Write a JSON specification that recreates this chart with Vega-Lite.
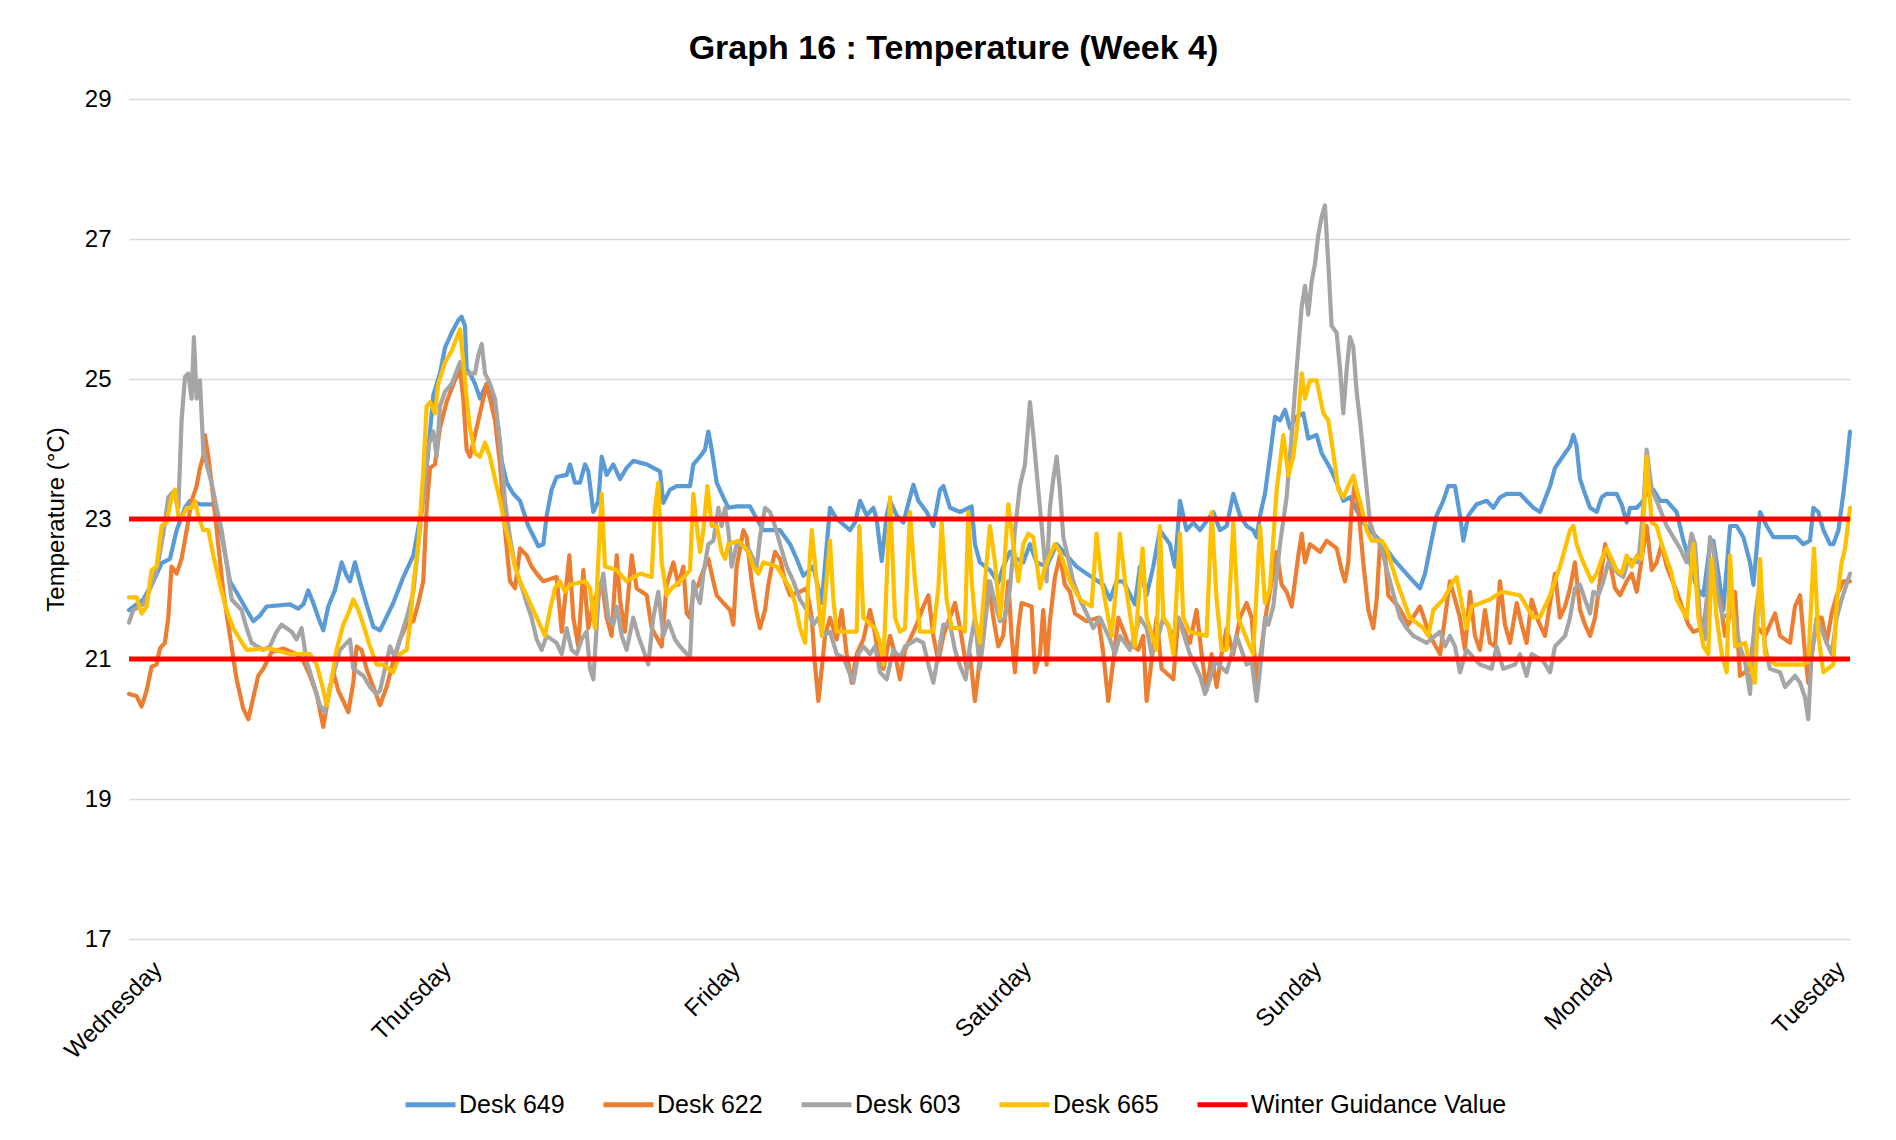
{
  "$schema": "https://vega.github.io/schema/vega-lite/v6.json",
  "width": 1721,
  "height": 840,
  "autosize": {"type": "none"},
  "padding": {"left": 129, "top": 99, "right": 46, "bottom": 201},
  "background": "white",
  "config": {
    "font": "Liberation Sans",
    "view": {"stroke": null}
  },
  "title": {
    "text": "Graph 16 : Temperature (Week 4)",
    "fontSize": 34,
    "fontWeight": "bold",
    "font": "Liberation Sans",
    "color": "#000000",
    "anchor": "middle",
    "frame": "group",
    "dx": -36,
    "offset": 21
  },
  "datasets": {
    "d649": [
      {"hour":0,"temp":21.70},{"hour":1.18,"temp":21.85},{"hour":2.01,"temp":22.11},{"hour":2.70,"temp":22.37},{"hour":3.39,"temp":22.43},{"hour":3.94,"temp":22.84},{"hour":4.63,"temp":23.16},{"hour":5.04,"temp":23.26},{"hour":5.87,"temp":23.21},{"hour":6.97,"temp":23.21},{"hour":7.38,"temp":23.0},{"hour":7.80,"temp":22.64},{"hour":8.35,"temp":22.11},{"hour":9.04,"temp":21.91},{"hour":9.73,"temp":21.70},{"hour":10.28,"temp":21.54},{"hour":10.83,"temp":21.62},{"hour":11.38,"temp":21.75},{"hour":13.31,"temp":21.78},{"hour":14.0,"temp":21.72},{"hour":14.42,"temp":21.78},{"hour":14.83,"temp":21.98},{"hour":15.24,"temp":21.80},{"hour":15.66,"temp":21.59},{"hour":16.07,"temp":21.41},{"hour":16.48,"temp":21.75},{"hour":17.03,"temp":21.98},{"hour":17.59,"temp":22.38},{"hour":18.0,"temp":22.19},{"hour":18.28,"temp":22.11},{"hour":18.69,"temp":22.38},{"hour":19.1,"temp":22.11},{"hour":19.65,"temp":21.78},{"hour":20.21,"temp":21.46},{"hour":20.76,"temp":21.41},{"hour":21.86,"temp":21.80},{"hour":22.69,"temp":22.17},{"hour":23.52,"temp":22.48},{"hour":24.07,"temp":23.0},{"hour":24.48,"temp":23.47},{"hour":24.90,"temp":24.25},{"hour":25.17,"temp":24.77},{"hour":25.72,"temp":25.08},{"hour":26.14,"temp":25.45},{"hour":26.69,"temp":25.66},{"hour":27.24,"temp":25.84},{"hour":27.51,"temp":25.89},{"hour":27.79,"temp":25.76},{"hour":27.93,"temp":25.14},{"hour":28.2,"temp":25.08},{"hour":28.62,"temp":24.93},{"hour":29.03,"temp":24.72},{"hour":29.58,"temp":24.93},{"hour":30.13,"temp":24.67},{"hour":30.55,"temp":24.30},{"hour":30.82,"temp":23.83},{"hour":31.24,"temp":23.52},{"hour":31.79,"temp":23.36},{"hour":32.34,"temp":23.26},{"hour":33.03,"temp":22.90},{"hour":33.86,"temp":22.61},{"hour":34.27,"temp":22.64},{"hour":34.55,"temp":23.05},{"hour":34.96,"temp":23.42},{"hour":35.37,"temp":23.60},{"hour":36.2,"temp":23.63},{"hour":36.48,"temp":23.78},{"hour":36.89,"temp":23.52},{"hour":37.30,"temp":23.52},{"hour":37.72,"temp":23.78},{"hour":37.99,"temp":23.68},{"hour":38.41,"temp":23.10},{"hour":38.82,"temp":23.26},{"hour":39.1,"temp":23.89},{"hour":39.51,"temp":23.63},{"hour":40.06,"temp":23.78},{"hour":40.61,"temp":23.57},{"hour":41.16,"temp":23.73},{"hour":41.71,"temp":23.83},{"hour":42.82,"temp":23.78},{"hour":43.37,"temp":23.73},{"hour":43.92,"temp":23.68},{"hour":44.2,"temp":23.23},{"hour":44.75,"temp":23.42},{"hour":45.3,"temp":23.47},{"hour":46.4,"temp":23.47},{"hour":46.68,"temp":23.78},{"hour":47.23,"temp":23.89},{"hour":47.64,"temp":23.99},{"hour":47.92,"temp":24.25},{"hour":48.2,"temp":23.99},{"hour":48.61,"temp":23.52},{"hour":49.16,"temp":23.31},{"hour":49.58,"temp":23.16},{"hour":50.26,"temp":23.18},{"hour":51.37,"temp":23.18},{"hour":51.92,"temp":23.0},{"hour":52.47,"temp":22.84},{"hour":53.85,"temp":22.84},{"hour":54.68,"temp":22.64},{"hour":55.23,"temp":22.43},{"hour":55.78,"temp":22.19},{"hour":56.6,"temp":22.32},{"hour":57.3,"temp":21.80},{"hour":57.98,"temp":23.16},{"hour":58.54,"temp":23.0},{"hour":59.64,"temp":22.84},{"hour":60.05,"temp":22.95},{"hour":60.47,"temp":23.26},{"hour":61.02,"temp":23.05},{"hour":61.57,"temp":23.16},{"hour":61.84,"temp":23.0},{"hour":62.26,"temp":22.40},{"hour":62.67,"temp":23.05},{"hour":62.95,"temp":23.26},{"hour":63.5,"temp":23.05},{"hour":64.05,"temp":22.95},{"hour":64.6,"temp":23.31},{"hour":64.88,"temp":23.49},{"hour":65.29,"temp":23.26},{"hour":65.98,"temp":23.10},{"hour":66.53,"temp":22.90},{"hour":67.08,"temp":23.42},{"hour":67.36,"temp":23.47},{"hour":67.91,"temp":23.16},{"hour":68.74,"temp":23.10},{"hour":69.7,"temp":23.18},{"hour":69.97,"temp":22.64},{"hour":70.38,"temp":22.38},{"hour":71.21,"temp":22.27},{"hour":71.9,"temp":22.09},{"hour":72.31,"temp":22.32},{"hour":72.87,"temp":22.53},{"hour":73.42,"temp":22.43},{"hour":73.97,"temp":22.38},{"hour":74.52,"temp":22.64},{"hour":75.07,"temp":22.38},{"hour":75.9,"temp":22.32},{"hour":76.73,"temp":22.64},{"hour":77.55,"temp":22.48},{"hour":78.38,"temp":22.32},{"hour":79.21,"temp":22.22},{"hour":80.59,"temp":22.06},{"hour":81.14,"temp":21.85},{"hour":81.69,"temp":22.11},{"hour":82.24,"temp":22.11},{"hour":83.2,"temp":21.78},{"hour":83.62,"temp":22.32},{"hour":84.17,"temp":21.91},{"hour":84.72,"temp":22.32},{"hour":85.27,"temp":22.84},{"hour":86.1,"temp":22.64},{"hour":86.51,"temp":22.32},{"hour":86.93,"temp":23.26},{"hour":87.48,"temp":22.84},{"hour":88.03,"temp":22.95},{"hour":88.58,"temp":22.84},{"hour":89.68,"temp":23.10},{"hour":90.24,"temp":22.84},{"hour":90.79,"temp":22.90},{"hour":91.34,"temp":23.36},{"hour":91.89,"temp":23.05},{"hour":92.44,"temp":22.90},{"hour":92.99,"temp":22.84},{"hour":93.27,"temp":22.74},{"hour":93.55,"temp":23.05},{"hour":93.96,"temp":23.36},{"hour":94.37,"temp":23.89},{"hour":94.79,"temp":24.46},{"hour":95.2,"temp":24.41},{"hour":95.62,"temp":24.56},{"hour":96.03,"temp":24.30},{"hour":96.58,"temp":24.46},{"hour":97.13,"temp":24.51},{"hour":97.54,"temp":24.15},{"hour":98.23,"temp":24.20},{"hour":98.65,"temp":23.94},{"hour":99.34,"temp":23.73},{"hour":99.89,"temp":23.52},{"hour":100.44,"temp":23.26},{"hour":100.99,"temp":23.31},{"hour":102.09,"temp":22.95},{"hour":102.65,"temp":22.84},{"hour":103.75,"temp":22.64},{"hour":104.58,"temp":22.43},{"hour":105.4,"temp":22.27},{"hour":106.23,"temp":22.11},{"hour":106.78,"temp":22.01},{"hour":107.2,"temp":22.22},{"hour":107.61,"temp":22.58},{"hour":108.16,"temp":23.05},{"hour":108.71,"temp":23.26},{"hour":109.12,"temp":23.47},{"hour":109.68,"temp":23.47},{"hour":110.09,"temp":23.05},{"hour":110.37,"temp":22.69},{"hour":110.78,"temp":23.05},{"hour":111.47,"temp":23.21},{"hour":112.3,"temp":23.26},{"hour":112.85,"temp":23.16},{"hour":113.4,"temp":23.31},{"hour":113.95,"temp":23.36},{"hour":115.05,"temp":23.36},{"hour":115.6,"temp":23.26},{"hour":116.16,"temp":23.16},{"hour":116.71,"temp":23.10},{"hour":117.54,"temp":23.47},{"hour":117.95,"temp":23.73},{"hour":118.78,"temp":23.94},{"hour":119.19,"temp":24.04},{"hour":119.47,"temp":24.20},{"hour":119.74,"temp":24.04},{"hour":120.02,"temp":23.57},{"hour":120.43,"temp":23.36},{"hour":120.85,"temp":23.16},{"hour":121.4,"temp":23.10},{"hour":121.81,"temp":23.31},{"hour":122.22,"temp":23.36},{"hour":123.05,"temp":23.36},{"hour":123.46,"temp":23.21},{"hour":123.88,"temp":22.95},{"hour":124.15,"temp":23.16},{"hour":124.71,"temp":23.16},{"hour":125.26,"temp":23.26},{"hour":125.67,"temp":23.42},{"hour":126.08,"temp":23.42},{"hour":126.64,"temp":23.26},{"hour":127.19,"temp":23.26},{"hour":128.01,"temp":23.10},{"hour":128.57,"temp":22.69},{"hour":129.12,"temp":22.38},{"hour":129.67,"temp":22.01},{"hour":130.22,"temp":21.91},{"hour":130.77,"temp":22.64},{"hour":131.05,"temp":22.69},{"hour":131.46,"temp":22.22},{"hour":131.87,"temp":21.70},{"hour":132.43,"temp":22.90},{"hour":132.98,"temp":22.90},{"hour":133.53,"temp":22.74},{"hour":134.08,"temp":22.38},{"hour":134.36,"temp":22.06},{"hour":134.91,"temp":23.10},{"hour":135.46,"temp":22.90},{"hour":136.01,"temp":22.74},{"hour":137.94,"temp":22.74},{"hour":138.49,"temp":22.64},{"hour":139.04,"temp":22.69},{"hour":139.32,"temp":23.16},{"hour":139.73,"temp":23.10},{"hour":140.15,"temp":22.84},{"hour":140.7,"temp":22.64},{"hour":140.97,"temp":22.64},{"hour":141.39,"temp":22.84},{"hour":141.8,"temp":23.36},{"hour":142.08,"temp":23.78},{"hour":142.35,"temp":24.25}
    ],
    "d622": [
      {"hour":0,"temp":20.50},{"hour":0.63,"temp":20.47},{"hour":1.04,"temp":20.32},{"hour":1.46,"temp":20.55},{"hour":1.87,"temp":20.89},{"hour":2.28,"temp":20.92},{"hour":2.56,"temp":21.15},{"hour":2.97,"temp":21.23},{"hour":3.25,"temp":21.59},{"hour":3.52,"temp":22.32},{"hour":3.94,"temp":22.22},{"hour":4.35,"temp":22.43},{"hour":4.77,"temp":22.84},{"hour":5.18,"temp":23.26},{"hour":5.59,"temp":23.47},{"hour":5.87,"temp":23.73},{"hour":6.14,"temp":23.89},{"hour":6.28,"temp":24.20},{"hour":6.56,"temp":23.89},{"hour":6.97,"temp":23.31},{"hour":7.38,"temp":22.64},{"hour":7.8,"temp":21.96},{"hour":8.35,"temp":21.33},{"hour":8.9,"temp":20.71},{"hour":9.45,"temp":20.29},{"hour":9.87,"temp":20.14},{"hour":10.28,"temp":20.45},{"hour":10.69,"temp":20.76},{"hour":11.11,"temp":20.86},{"hour":11.8,"temp":21.10},{"hour":12.76,"temp":21.15},{"hour":13.86,"temp":21.07},{"hour":14.42,"temp":20.97},{"hour":14.97,"temp":20.76},{"hour":15.52,"temp":20.50},{"hour":16.07,"temp":20.03},{"hour":16.48,"temp":20.45},{"hour":16.9,"temp":20.81},{"hour":17.31,"temp":20.55},{"hour":17.72,"temp":20.40},{"hour":18.14,"temp":20.24},{"hour":18.55,"temp":20.66},{"hour":18.83,"temp":21.18},{"hour":19.24,"temp":21.13},{"hour":19.65,"temp":20.86},{"hour":20.21,"temp":20.60},{"hour":20.76,"temp":20.34},{"hour":21.31,"temp":20.60},{"hour":21.86,"temp":20.97},{"hour":22.41,"temp":21.28},{"hour":22.97,"temp":21.49},{"hour":23.52,"temp":21.54},{"hour":23.93,"temp":21.80},{"hour":24.34,"temp":22.11},{"hour":24.62,"temp":23.16},{"hour":24.9,"temp":23.73},{"hour":25.31,"temp":23.78},{"hour":25.72,"temp":24.30},{"hour":26.27,"temp":24.67},{"hour":26.83,"temp":24.93},{"hour":27.38,"temp":25.14},{"hour":27.65,"temp":24.72},{"hour":27.93,"temp":23.99},{"hour":28.2,"temp":23.89},{"hour":28.62,"temp":24.20},{"hour":29.03,"temp":24.51},{"hour":29.31,"temp":24.72},{"hour":29.58,"temp":24.93},{"hour":29.86,"temp":24.72},{"hour":30.27,"temp":24.41},{"hour":30.69,"temp":23.78},{"hour":31.1,"temp":22.84},{"hour":31.51,"temp":22.11},{"hour":31.93,"temp":22.01},{"hour":32.34,"temp":22.58},{"hour":32.89,"temp":22.48},{"hour":33.3,"temp":22.32},{"hour":33.72,"temp":22.22},{"hour":34.27,"temp":22.11},{"hour":35.37,"temp":22.17},{"hour":35.79,"temp":21.39},{"hour":36.06,"temp":21.85},{"hour":36.42,"temp":22.48},{"hour":36.75,"temp":21.59},{"hour":37.16,"temp":21.18},{"hour":37.58,"temp":22.27},{"hour":37.99,"temp":21.44},{"hour":38.41,"temp":21.80},{"hour":39.1,"temp":22.11},{"hour":39.51,"temp":21.59},{"hour":39.92,"temp":21.33},{"hour":40.34,"temp":22.48},{"hour":40.61,"temp":21.85},{"hour":41.02,"temp":21.39},{"hour":41.58,"temp":22.48},{"hour":41.99,"temp":22.01},{"hour":42.82,"temp":21.91},{"hour":43.23,"temp":21.44},{"hour":44.06,"temp":21.18},{"hour":44.47,"temp":22.06},{"hour":45.03,"temp":22.38},{"hour":45.44,"temp":22.06},{"hour":45.85,"temp":22.32},{"hour":46.13,"temp":21.65},{"hour":46.4,"temp":21.59},{"hour":46.68,"temp":21.96},{"hour":47.09,"temp":22.06},{"hour":47.51,"temp":22.27},{"hour":47.92,"temp":22.43},{"hour":48.33,"temp":22.11},{"hour":48.61,"temp":21.91},{"hour":49.16,"temp":21.80},{"hour":49.71,"temp":21.70},{"hour":49.99,"temp":21.49},{"hour":50.26,"temp":22.32},{"hour":50.54,"temp":22.58},{"hour":50.82,"temp":22.84},{"hour":51.09,"temp":22.74},{"hour":51.5,"temp":22.11},{"hour":51.92,"temp":21.65},{"hour":52.19,"temp":21.44},{"hour":52.61,"temp":21.70},{"hour":52.88,"temp":22.06},{"hour":53.16,"temp":22.32},{"hour":53.43,"temp":22.53},{"hour":53.85,"temp":22.43},{"hour":54.26,"temp":22.11},{"hour":54.68,"temp":21.91},{"hour":55.5,"temp":21.96},{"hour":56.05,"temp":22.01},{"hour":56.47,"temp":21.59},{"hour":56.74,"temp":20.92},{"hour":57.02,"temp":20.40},{"hour":57.3,"temp":20.86},{"hour":57.57,"temp":21.33},{"hour":57.98,"temp":21.59},{"hour":58.54,"temp":21.28},{"hour":58.95,"temp":21.70},{"hour":59.36,"temp":21.07},{"hour":59.78,"temp":20.66},{"hour":60.19,"temp":21.07},{"hour":60.74,"temp":21.28},{"hour":61.29,"temp":21.70},{"hour":61.57,"temp":21.49},{"hour":61.98,"temp":21.07},{"hour":62.4,"temp":20.86},{"hour":62.95,"temp":21.33},{"hour":63.36,"temp":21.07},{"hour":63.77,"temp":20.71},{"hour":64.19,"temp":21.13},{"hour":65.15,"temp":21.49},{"hour":65.7,"temp":21.75},{"hour":66.12,"temp":21.91},{"hour":66.53,"temp":21.33},{"hour":66.94,"temp":20.97},{"hour":67.36,"temp":21.33},{"hour":68.32,"temp":21.80},{"hour":68.74,"temp":21.44},{"hour":69.29,"temp":20.86},{"hour":69.56,"temp":21.07},{"hour":69.97,"temp":20.40},{"hour":70.25,"temp":20.81},{"hour":70.66,"temp":21.59},{"hour":71.07,"temp":22.11},{"hour":71.49,"temp":21.59},{"hour":71.9,"temp":21.18},{"hour":72.31,"temp":21.33},{"hour":72.73,"temp":22.11},{"hour":73.0,"temp":21.33},{"hour":73.28,"temp":20.81},{"hour":73.56,"temp":21.44},{"hour":73.83,"temp":21.80},{"hour":74.66,"temp":21.75},{"hour":74.93,"temp":20.81},{"hour":75.35,"temp":21.07},{"hour":75.62,"temp":21.70},{"hour":75.9,"temp":20.92},{"hour":76.17,"temp":21.54},{"hour":76.59,"temp":22.17},{"hour":77.0,"temp":22.48},{"hour":77.41,"temp":22.06},{"hour":77.83,"temp":21.96},{"hour":78.24,"temp":21.65},{"hour":79.21,"temp":21.54},{"hour":80.17,"temp":21.59},{"hour":80.59,"temp":21.07},{"hour":81.0,"temp":20.40},{"hour":81.41,"temp":20.97},{"hour":81.83,"temp":21.59},{"hour":82.65,"temp":21.23},{"hour":83.48,"temp":21.13},{"hour":83.89,"temp":21.33},{"hour":84.17,"temp":20.40},{"hour":84.58,"temp":20.97},{"hour":85.0,"temp":21.59},{"hour":85.41,"temp":20.86},{"hour":86.38,"temp":20.71},{"hour":86.79,"temp":21.59},{"hour":87.75,"temp":21.23},{"hour":88.3,"temp":21.70},{"hour":88.72,"temp":21.07},{"hour":89.13,"temp":20.55},{"hour":89.55,"temp":21.07},{"hour":89.96,"temp":20.60},{"hour":90.37,"temp":21.07},{"hour":90.79,"temp":21.44},{"hour":91.34,"temp":21.07},{"hour":91.89,"temp":21.59},{"hour":92.44,"temp":21.80},{"hour":92.86,"temp":21.59},{"hour":93.27,"temp":20.66},{"hour":93.69,"temp":21.18},{"hour":94.1,"temp":21.70},{"hour":94.51,"temp":22.11},{"hour":94.93,"temp":22.53},{"hour":95.34,"temp":22.06},{"hour":95.75,"temp":21.96},{"hour":96.17,"temp":21.75},{"hour":96.44,"temp":22.11},{"hour":96.72,"temp":22.48},{"hour":97.0,"temp":22.79},{"hour":97.27,"temp":22.38},{"hour":97.68,"temp":22.64},{"hour":98.51,"temp":22.53},{"hour":99.06,"temp":22.69},{"hour":99.89,"temp":22.58},{"hour":100.3,"temp":22.27},{"hour":100.58,"temp":22.11},{"hour":100.85,"temp":22.38},{"hour":101.13,"temp":23.16},{"hour":101.4,"temp":23.52},{"hour":101.68,"temp":23.16},{"hour":102.09,"temp":22.38},{"hour":102.51,"temp":21.70},{"hour":102.92,"temp":21.44},{"hour":103.2,"temp":21.85},{"hour":103.47,"temp":22.64},{"hour":103.89,"temp":22.48},{"hour":104.16,"temp":21.91},{"hour":104.99,"temp":21.75},{"hour":105.82,"temp":21.49},{"hour":106.78,"temp":21.75},{"hour":107.61,"temp":21.33},{"hour":108.44,"temp":21.07},{"hour":108.85,"temp":21.59},{"hour":109.26,"temp":22.11},{"hour":109.68,"temp":21.85},{"hour":110.09,"temp":21.59},{"hour":110.5,"temp":21.13},{"hour":110.92,"temp":21.96},{"hour":111.33,"temp":21.33},{"hour":111.74,"temp":21.13},{"hour":112.16,"temp":21.70},{"hour":112.57,"temp":21.23},{"hour":112.98,"temp":21.18},{"hour":113.4,"temp":22.11},{"hour":113.81,"temp":21.49},{"hour":114.23,"temp":21.23},{"hour":114.78,"temp":21.80},{"hour":115.19,"temp":21.49},{"hour":115.6,"temp":21.23},{"hour":116.02,"temp":21.85},{"hour":116.57,"temp":21.54},{"hour":117.12,"temp":21.33},{"hour":117.54,"temp":21.80},{"hour":117.95,"temp":22.22},{"hour":118.36,"temp":21.59},{"hour":118.78,"temp":21.75},{"hour":119.19,"temp":22.01},{"hour":119.6,"temp":22.38},{"hour":120.02,"temp":21.70},{"hour":120.43,"temp":21.49},{"hour":120.85,"temp":21.33},{"hour":121.26,"temp":21.59},{"hour":121.67,"temp":22.11},{"hour":122.09,"temp":22.64},{"hour":122.5,"temp":22.38},{"hour":122.91,"temp":22.01},{"hour":123.33,"temp":21.91},{"hour":123.88,"temp":22.11},{"hour":124.29,"temp":22.22},{"hour":124.71,"temp":21.96},{"hour":125.53,"temp":22.90},{"hour":125.95,"temp":22.27},{"hour":126.36,"temp":22.38},{"hour":126.77,"temp":22.64},{"hour":127.19,"temp":22.32},{"hour":128.01,"temp":21.96},{"hour":128.98,"temp":21.49},{"hour":129.39,"temp":21.39},{"hour":130.22,"temp":21.44},{"hour":130.63,"temp":22.01},{"hour":131.05,"temp":22.06},{"hour":131.6,"temp":21.85},{"hour":132.01,"temp":21.33},{"hour":132.84,"temp":21.96},{"hour":133.25,"temp":20.76},{"hour":134.08,"temp":20.86},{"hour":134.49,"temp":21.49},{"hour":135.32,"temp":21.33},{"hour":136.15,"temp":21.65},{"hour":136.56,"temp":21.33},{"hour":137.39,"temp":21.23},{"hour":137.8,"temp":21.75},{"hour":138.22,"temp":21.91},{"hour":138.63,"temp":21.07},{"hour":138.9,"temp":20.66},{"hour":139.6,"temp":21.59},{"hour":140.01,"temp":21.59},{"hour":140.42,"temp":21.23},{"hour":140.83,"temp":21.65},{"hour":141.25,"temp":21.91},{"hour":141.8,"temp":22.11},{"hour":142.35,"temp":22.11}
    ],
    "d603": [
      {"hour":0,"temp":21.52},{"hour":0.35,"temp":21.70},{"hour":1.18,"temp":21.78},{"hour":2.01,"temp":22.11},{"hour":2.42,"temp":22.38},{"hour":2.84,"temp":22.79},{"hour":3.25,"temp":23.31},{"hour":3.66,"temp":23.39},{"hour":4.08,"temp":23.16},{"hour":4.35,"temp":24.41},{"hour":4.63,"temp":25.03},{"hour":4.9,"temp":25.08},{"hour":5.18,"temp":24.72},{"hour":5.37,"temp":25.60},{"hour":5.59,"temp":24.72},{"hour":5.87,"temp":24.98},{"hour":6.14,"temp":23.99},{"hour":6.42,"temp":23.78},{"hour":6.83,"temp":23.52},{"hour":7.25,"temp":23.16},{"hour":7.66,"temp":22.84},{"hour":8.07,"temp":22.38},{"hour":8.49,"temp":21.85},{"hour":9.31,"temp":21.70},{"hour":9.73,"temp":21.44},{"hour":10.14,"temp":21.23},{"hour":11.11,"temp":21.13},{"hour":11.66,"temp":21.18},{"hour":12.21,"temp":21.39},{"hour":12.62,"temp":21.49},{"hour":13.45,"temp":21.39},{"hour":13.86,"temp":21.28},{"hour":14.28,"temp":21.44},{"hour":14.69,"temp":20.97},{"hour":15.24,"temp":20.66},{"hour":15.79,"temp":20.34},{"hour":16.21,"temp":20.24},{"hour":16.62,"temp":20.60},{"hour":17.03,"temp":20.86},{"hour":17.45,"temp":21.13},{"hour":18.28,"temp":21.28},{"hour":18.55,"temp":20.86},{"hour":19.38,"temp":20.76},{"hour":19.93,"temp":20.60},{"hour":20.48,"temp":20.50},{"hour":20.76,"temp":20.55},{"hour":21.17,"temp":20.86},{"hour":21.59,"temp":21.18},{"hour":22.0,"temp":21.02},{"hour":22.41,"temp":21.28},{"hour":22.97,"temp":21.59},{"hour":23.52,"temp":21.96},{"hour":23.93,"temp":22.64},{"hour":24.34,"temp":23.31},{"hour":24.76,"temp":24.04},{"hour":25.17,"temp":24.25},{"hour":25.45,"temp":23.89},{"hour":25.72,"temp":24.61},{"hour":26.14,"temp":24.82},{"hour":26.69,"temp":24.93},{"hour":27.38,"temp":25.24},{"hour":27.79,"temp":25.08},{"hour":28.62,"temp":25.08},{"hour":28.89,"temp":25.34},{"hour":29.17,"temp":25.50},{"hour":29.45,"temp":25.08},{"hour":29.86,"temp":24.93},{"hour":30.27,"temp":24.72},{"hour":30.69,"temp":24.09},{"hour":31.1,"temp":23.26},{"hour":31.51,"temp":22.74},{"hour":31.93,"temp":22.32},{"hour":32.34,"temp":22.11},{"hour":32.89,"temp":21.80},{"hour":33.3,"temp":21.59},{"hour":33.72,"temp":21.28},{"hour":34.13,"temp":21.13},{"hour":34.55,"temp":21.33},{"hour":35.37,"temp":21.23},{"hour":35.79,"temp":21.07},{"hour":36.2,"temp":21.44},{"hour":36.61,"temp":21.13},{"hour":37.03,"temp":21.07},{"hour":37.44,"temp":21.28},{"hour":37.85,"temp":21.39},{"hour":38.13,"temp":20.86},{"hour":38.41,"temp":20.71},{"hour":38.82,"temp":21.85},{"hour":39.23,"temp":22.22},{"hour":39.65,"temp":21.59},{"hour":40.06,"temp":21.49},{"hour":40.34,"temp":21.75},{"hour":40.75,"temp":21.33},{"hour":41.16,"temp":21.13},{"hour":41.71,"temp":21.59},{"hour":42.13,"temp":21.33},{"hour":42.54,"temp":21.13},{"hour":42.95,"temp":20.92},{"hour":43.37,"temp":21.59},{"hour":43.78,"temp":21.96},{"hour":44.2,"temp":21.33},{"hour":44.61,"temp":21.54},{"hour":45.16,"temp":21.28},{"hour":45.58,"temp":21.18},{"hour":46.4,"temp":21.02},{"hour":46.68,"temp":22.11},{"hour":46.96,"temp":21.91},{"hour":47.23,"temp":21.80},{"hour":47.51,"temp":22.22},{"hour":47.92,"temp":22.64},{"hour":48.33,"temp":22.69},{"hour":48.75,"temp":23.16},{"hour":49.02,"temp":22.90},{"hour":49.3,"temp":23.16},{"hour":49.57,"temp":22.84},{"hour":49.85,"temp":22.32},{"hour":50.26,"temp":22.64},{"hour":51.23,"temp":22.58},{"hour":51.92,"temp":22.32},{"hour":52.19,"temp":22.74},{"hour":52.61,"temp":23.16},{"hour":53.02,"temp":23.10},{"hour":53.43,"temp":22.90},{"hour":53.85,"temp":22.64},{"hour":54.4,"temp":22.32},{"hour":54.95,"temp":22.11},{"hour":55.5,"temp":21.85},{"hour":56.05,"temp":21.70},{"hour":56.61,"temp":21.49},{"hour":57.02,"temp":21.59},{"hour":57.43,"temp":21.33},{"hour":57.98,"temp":21.39},{"hour":58.54,"temp":21.07},{"hour":59.09,"temp":21.02},{"hour":59.91,"temp":20.66},{"hour":60.33,"temp":21.07},{"hour":60.74,"temp":21.18},{"hour":61.29,"temp":21.07},{"hour":61.71,"temp":21.18},{"hour":62.12,"temp":20.81},{"hour":62.67,"temp":20.71},{"hour":63.22,"temp":21.13},{"hour":63.77,"temp":21.02},{"hour":64.19,"temp":21.18},{"hour":65.15,"temp":21.28},{"hour":65.7,"temp":21.23},{"hour":66.12,"temp":20.92},{"hour":66.53,"temp":20.66},{"hour":66.94,"temp":21.07},{"hour":67.36,"temp":21.49},{"hour":67.91,"temp":21.49},{"hour":68.32,"temp":21.13},{"hour":68.74,"temp":20.90},{"hour":69.2,"temp":20.71},{"hour":69.56,"temp":21.20},{"hour":69.97,"temp":21.59},{"hour":70.38,"temp":20.86},{"hour":70.8,"temp":21.49},{"hour":71.21,"temp":22.11},{"hour":71.63,"temp":21.80},{"hour":72.04,"temp":21.54},{"hour":72.45,"temp":21.59},{"hour":72.87,"temp":22.01},{"hour":73.28,"temp":22.84},{"hour":73.69,"temp":23.47},{"hour":74.11,"temp":23.78},{"hour":74.52,"temp":24.67},{"hour":74.8,"temp":24.20},{"hour":75.07,"temp":23.68},{"hour":75.49,"temp":22.90},{"hour":75.9,"temp":22.11},{"hour":76.17,"temp":23.16},{"hour":76.45,"temp":23.57},{"hour":76.73,"temp":23.89},{"hour":77.0,"temp":23.42},{"hour":77.28,"temp":22.74},{"hour":77.69,"temp":22.43},{"hour":78.1,"temp":22.11},{"hour":78.66,"temp":21.85},{"hour":79.21,"temp":21.65},{"hour":79.76,"temp":21.44},{"hour":80.31,"temp":21.59},{"hour":81.14,"temp":21.28},{"hour":81.55,"temp":21.07},{"hour":81.96,"temp":21.33},{"hour":82.79,"temp":21.13},{"hour":83.62,"temp":21.59},{"hour":84.17,"temp":21.44},{"hour":84.58,"temp":21.07},{"hour":85.0,"temp":21.23},{"hour":85.55,"temp":21.59},{"hour":86.38,"temp":21.33},{"hour":86.79,"temp":21.59},{"hour":87.75,"temp":21.07},{"hour":88.58,"temp":20.76},{"hour":89.0,"temp":20.50},{"hour":89.41,"temp":20.71},{"hour":89.82,"temp":20.97},{"hour":90.79,"temp":20.81},{"hour":91.61,"temp":21.33},{"hour":92.44,"temp":20.92},{"hour":92.86,"temp":20.97},{"hour":93.27,"temp":20.40},{"hour":93.69,"temp":21.07},{"hour":93.96,"temp":21.59},{"hour":94.24,"temp":21.49},{"hour":94.65,"temp":21.75},{"hour":95.2,"temp":22.64},{"hour":95.75,"temp":23.31},{"hour":96.17,"temp":24.20},{"hour":96.58,"temp":25.14},{"hour":96.99,"temp":26.02},{"hour":97.27,"temp":26.33},{"hour":97.54,"temp":25.92},{"hour":97.82,"temp":26.39},{"hour":98.1,"temp":26.65},{"hour":98.37,"temp":27.06},{"hour":98.65,"temp":27.32},{"hour":98.92,"temp":27.48},{"hour":99.2,"temp":26.65},{"hour":99.47,"temp":25.76},{"hour":99.89,"temp":25.66},{"hour":100.17,"temp":25.14},{"hour":100.44,"temp":24.51},{"hour":100.72,"temp":25.14},{"hour":100.99,"temp":25.60},{"hour":101.27,"temp":25.45},{"hour":101.54,"temp":24.82},{"hour":101.82,"temp":24.41},{"hour":102.23,"temp":23.68},{"hour":102.65,"temp":22.95},{"hour":103.06,"temp":22.74},{"hour":103.47,"temp":22.64},{"hour":103.89,"temp":22.38},{"hour":104.3,"temp":22.11},{"hour":104.71,"temp":21.85},{"hour":105.13,"temp":21.59},{"hour":105.68,"temp":21.44},{"hour":106.23,"temp":21.33},{"hour":107.33,"temp":21.23},{"hour":108.44,"temp":21.39},{"hour":108.85,"temp":21.18},{"hour":109.26,"temp":21.33},{"hour":109.68,"temp":21.18},{"hour":110.09,"temp":20.81},{"hour":110.64,"temp":21.13},{"hour":111.74,"temp":20.92},{"hour":112.71,"temp":20.86},{"hour":113.12,"temp":21.18},{"hour":113.67,"temp":20.86},{"hour":114.64,"temp":20.92},{"hour":115.05,"temp":21.07},{"hour":115.6,"temp":20.76},{"hour":116.02,"temp":21.07},{"hour":116.98,"temp":20.97},{"hour":117.54,"temp":20.81},{"hour":117.95,"temp":21.18},{"hour":118.78,"temp":21.33},{"hour":119.19,"temp":21.59},{"hour":119.6,"temp":22.01},{"hour":120.02,"temp":22.06},{"hour":120.43,"temp":21.85},{"hour":120.85,"temp":21.65},{"hour":121.12,"temp":21.96},{"hour":121.54,"temp":21.91},{"hour":121.95,"temp":22.11},{"hour":122.36,"temp":22.38},{"hour":123.19,"temp":22.22},{"hour":123.6,"temp":22.17},{"hour":124.02,"temp":22.43},{"hour":124.84,"temp":22.38},{"hour":125.26,"temp":23.16},{"hour":125.53,"temp":23.99},{"hour":125.95,"temp":23.42},{"hour":126.36,"temp":23.26},{"hour":127.19,"temp":22.90},{"hour":128.29,"temp":22.58},{"hour":128.84,"temp":22.38},{"hour":129.25,"temp":22.79},{"hour":129.53,"temp":22.64},{"hour":129.94,"temp":21.59},{"hour":130.36,"temp":21.28},{"hour":130.77,"temp":22.74},{"hour":131.05,"temp":22.58},{"hour":131.46,"temp":21.85},{"hour":131.87,"temp":21.59},{"hour":132.7,"temp":21.70},{"hour":133.25,"temp":21.18},{"hour":133.67,"temp":20.97},{"hour":134.08,"temp":20.50},{"hour":134.49,"temp":21.59},{"hour":134.91,"temp":22.11},{"hour":135.32,"temp":21.18},{"hour":135.73,"temp":20.86},{"hour":136.56,"temp":20.81},{"hour":136.98,"temp":20.60},{"hour":137.8,"temp":20.76},{"hour":138.22,"temp":20.66},{"hour":138.63,"temp":20.45},{"hour":138.9,"temp":20.14},{"hour":139.18,"temp":21.07},{"hour":139.6,"temp":21.59},{"hour":140.42,"temp":21.23},{"hour":140.83,"temp":21.07},{"hour":141.25,"temp":21.59},{"hour":141.66,"temp":21.85},{"hour":142.35,"temp":22.22}
    ],
    "d665": [
      {"hour":0,"temp":21.88},{"hour":0.63,"temp":21.88},{"hour":1.04,"temp":21.65},{"hour":1.46,"temp":21.75},{"hour":1.87,"temp":22.27},{"hour":2.28,"temp":22.32},{"hour":2.7,"temp":22.90},{"hour":3.11,"temp":22.95},{"hour":3.52,"temp":23.31},{"hour":3.8,"temp":23.42},{"hour":4.08,"temp":23.05},{"hour":4.35,"temp":23.0},{"hour":4.77,"temp":23.16},{"hour":5.18,"temp":23.16},{"hour":5.46,"temp":23.26},{"hour":5.73,"temp":23.05},{"hour":6.14,"temp":22.84},{"hour":6.56,"temp":22.84},{"hour":6.97,"temp":22.48},{"hour":7.52,"temp":22.06},{"hour":8.07,"temp":21.70},{"hour":8.63,"temp":21.44},{"hour":9.18,"temp":21.28},{"hour":9.73,"temp":21.13},{"hour":11.66,"temp":21.15},{"hour":13.31,"temp":21.07},{"hour":14.97,"temp":21.07},{"hour":15.52,"temp":20.92},{"hour":15.93,"temp":20.66},{"hour":16.35,"temp":20.34},{"hour":16.76,"temp":20.71},{"hour":17.17,"temp":21.13},{"hour":17.72,"temp":21.49},{"hour":18.14,"temp":21.65},{"hour":18.55,"temp":21.85},{"hour":18.97,"temp":21.70},{"hour":19.38,"temp":21.49},{"hour":19.93,"temp":21.18},{"hour":20.48,"temp":20.92},{"hour":21.03,"temp":20.92},{"hour":21.86,"temp":20.81},{"hour":22.41,"temp":21.07},{"hour":22.97,"temp":21.13},{"hour":23.24,"temp":21.49},{"hour":23.52,"temp":22.06},{"hour":23.93,"temp":22.64},{"hour":24.34,"temp":23.68},{"hour":24.62,"temp":24.61},{"hour":24.9,"temp":24.67},{"hour":25.31,"temp":24.51},{"hour":25.58,"temp":24.93},{"hour":26.14,"temp":25.24},{"hour":26.69,"temp":25.40},{"hour":27.38,"temp":25.71},{"hour":27.65,"temp":25.24},{"hour":27.93,"temp":24.72},{"hour":28.2,"temp":24.30},{"hour":28.62,"temp":23.94},{"hour":29.03,"temp":23.89},{"hour":29.45,"temp":24.09},{"hour":29.86,"temp":23.89},{"hour":30.27,"temp":23.57},{"hour":30.69,"temp":23.26},{"hour":31.1,"temp":22.90},{"hour":31.51,"temp":22.64},{"hour":31.93,"temp":22.32},{"hour":32.34,"temp":22.11},{"hour":32.75,"temp":21.96},{"hour":33.17,"temp":21.80},{"hour":33.72,"temp":21.59},{"hour":34.41,"temp":21.33},{"hour":34.82,"temp":21.70},{"hour":35.23,"temp":22.01},{"hour":35.65,"temp":22.11},{"hour":36.06,"temp":21.96},{"hour":36.48,"temp":22.06},{"hour":37.72,"temp":22.11},{"hour":38.13,"temp":22.01},{"hour":38.54,"temp":21.44},{"hour":39.09,"temp":23.36},{"hour":39.37,"temp":22.32},{"hour":40.34,"temp":22.27},{"hour":41.16,"temp":22.11},{"hour":42.27,"temp":22.22},{"hour":43.23,"temp":22.17},{"hour":43.51,"temp":23.16},{"hour":43.78,"temp":23.52},{"hour":44.06,"temp":22.38},{"hour":44.47,"temp":21.91},{"hour":44.88,"temp":22.01},{"hour":45.58,"temp":22.11},{"hour":46.4,"temp":22.27},{"hour":46.68,"temp":23.36},{"hour":46.96,"temp":22.90},{"hour":47.23,"temp":22.53},{"hour":47.51,"temp":22.84},{"hour":47.84,"temp":23.47},{"hour":48.2,"temp":22.90},{"hour":48.61,"temp":22.90},{"hour":49.02,"temp":22.53},{"hour":49.3,"temp":22.43},{"hour":49.57,"temp":22.64},{"hour":50.4,"temp":22.69},{"hour":51.23,"temp":22.53},{"hour":51.64,"temp":22.32},{"hour":52.06,"temp":22.22},{"hour":52.47,"temp":22.38},{"hour":53.57,"temp":22.32},{"hour":54.12,"temp":22.17},{"hour":54.68,"temp":22.01},{"hour":55.09,"temp":21.80},{"hour":55.5,"temp":21.44},{"hour":55.92,"temp":21.23},{"hour":56.19,"temp":22.11},{"hour":56.47,"temp":22.84},{"hour":56.88,"temp":22.11},{"hour":57.3,"temp":21.33},{"hour":57.98,"temp":22.69},{"hour":58.26,"temp":21.85},{"hour":58.54,"temp":21.39},{"hour":60.19,"temp":21.39},{"hour":60.41,"temp":22.90},{"hour":60.74,"temp":21.59},{"hour":61.71,"temp":21.44},{"hour":62.12,"temp":21.23},{"hour":62.4,"temp":20.92},{"hour":62.67,"temp":22.11},{"hour":62.95,"temp":23.31},{"hour":63.36,"temp":21.59},{"hour":63.77,"temp":21.39},{"hour":64.19,"temp":21.44},{"hour":64.6,"temp":23.10},{"hour":65.01,"temp":22.11},{"hour":65.43,"temp":21.39},{"hour":66.53,"temp":21.39},{"hour":66.94,"temp":22.01},{"hour":67.22,"temp":22.95},{"hour":67.63,"temp":21.85},{"hour":68.04,"temp":21.44},{"hour":69.01,"temp":21.44},{"hour":69.14,"temp":21.39},{"hour":69.42,"temp":23.10},{"hour":69.7,"temp":22.11},{"hour":69.97,"temp":21.59},{"hour":70.38,"temp":21.23},{"hour":70.8,"temp":22.11},{"hour":71.21,"temp":22.90},{"hour":71.63,"temp":22.38},{"hour":72.04,"temp":21.59},{"hour":72.31,"temp":22.11},{"hour":72.73,"temp":23.21},{"hour":73.14,"temp":22.64},{"hour":73.56,"temp":22.11},{"hour":73.97,"temp":22.64},{"hour":74.38,"temp":22.79},{"hour":74.8,"temp":22.74},{"hour":75.35,"temp":22.01},{"hour":75.76,"temp":22.32},{"hour":76.59,"temp":22.64},{"hour":77.0,"temp":22.53},{"hour":77.83,"temp":22.11},{"hour":78.66,"temp":21.85},{"hour":79.62,"temp":21.75},{"hour":80.03,"temp":22.79},{"hour":80.45,"temp":22.11},{"hour":81.27,"temp":21.33},{"hour":81.69,"temp":22.11},{"hour":81.96,"temp":22.79},{"hour":82.38,"temp":22.11},{"hour":83.2,"temp":21.18},{"hour":83.84,"temp":22.58},{"hour":84.17,"temp":21.59},{"hour":84.99,"temp":21.13},{"hour":85.27,"temp":22.90},{"hour":85.55,"temp":21.59},{"hour":85.96,"temp":21.49},{"hour":86.38,"temp":21.07},{"hour":86.93,"temp":22.79},{"hour":87.2,"temp":21.59},{"hour":87.75,"temp":21.39},{"hour":89.13,"temp":21.33},{"hour":89.55,"temp":23.10},{"hour":89.96,"temp":21.85},{"hour":90.37,"temp":21.13},{"hour":90.79,"temp":21.13},{"hour":91.34,"temp":22.95},{"hour":91.75,"temp":21.59},{"hour":92.58,"temp":21.23},{"hour":92.99,"temp":21.07},{"hour":93.55,"temp":22.90},{"hour":93.96,"temp":21.80},{"hour":94.37,"temp":22.01},{"hour":94.93,"temp":23.42},{"hour":95.48,"temp":24.20},{"hour":95.89,"temp":23.62},{"hour":96.3,"temp":23.89},{"hour":96.72,"temp":24.46},{"hour":97.0,"temp":25.08},{"hour":97.27,"temp":24.72},{"hour":97.68,"temp":24.98},{"hour":98.23,"temp":24.98},{"hour":98.79,"temp":24.51},{"hour":99.2,"temp":24.41},{"hour":99.61,"temp":23.94},{"hour":100.03,"temp":23.42},{"hour":100.44,"temp":23.31},{"hour":100.85,"temp":23.47},{"hour":101.27,"temp":23.62},{"hour":101.54,"temp":23.42},{"hour":101.96,"temp":23.16},{"hour":102.37,"temp":22.84},{"hour":102.78,"temp":22.69},{"hour":103.61,"temp":22.69},{"hour":104.02,"temp":22.58},{"hour":104.85,"temp":22.11},{"hour":105.95,"temp":21.59},{"hour":107.06,"temp":21.44},{"hour":107.47,"temp":21.33},{"hour":107.88,"temp":21.70},{"hour":108.71,"temp":21.85},{"hour":109.54,"temp":22.11},{"hour":109.81,"temp":22.17},{"hour":110.23,"temp":21.80},{"hour":110.64,"temp":21.44},{"hour":111.05,"temp":21.75},{"hour":112.57,"temp":21.85},{"hour":113.54,"temp":21.96},{"hour":115.05,"temp":21.91},{"hour":116.16,"temp":21.59},{"hour":116.71,"temp":21.60},{"hour":117.54,"temp":21.91},{"hour":118.36,"temp":22.32},{"hour":118.78,"temp":22.58},{"hour":119.19,"temp":22.84},{"hour":119.47,"temp":22.90},{"hour":119.74,"temp":22.64},{"hour":120.16,"temp":22.43},{"hour":120.98,"temp":22.11},{"hour":121.4,"temp":22.22},{"hour":121.81,"temp":22.43},{"hour":122.22,"temp":22.58},{"hour":123.05,"temp":22.27},{"hour":123.46,"temp":22.22},{"hour":123.88,"temp":22.48},{"hour":124.29,"temp":22.32},{"hour":124.71,"temp":22.48},{"hour":125.12,"temp":22.43},{"hour":125.53,"temp":23.89},{"hour":125.95,"temp":22.95},{"hour":126.36,"temp":22.90},{"hour":126.77,"temp":22.64},{"hour":127.19,"temp":22.43},{"hour":127.6,"temp":22.22},{"hour":128.01,"temp":21.85},{"hour":128.84,"temp":21.59},{"hour":129.39,"temp":22.64},{"hour":129.81,"temp":21.59},{"hour":130.22,"temp":21.18},{"hour":130.63,"temp":21.07},{"hour":130.91,"temp":22.43},{"hour":131.32,"temp":21.59},{"hour":131.74,"temp":21.07},{"hour":132.15,"temp":20.81},{"hour":132.43,"temp":22.48},{"hour":132.84,"temp":21.18},{"hour":133.67,"temp":21.23},{"hour":134.08,"temp":20.92},{"hour":134.49,"temp":20.66},{"hour":134.91,"temp":22.43},{"hour":135.32,"temp":21.07},{"hour":136.15,"temp":20.92},{"hour":138.49,"temp":20.92},{"hour":138.9,"temp":20.97},{"hour":139.37,"temp":22.58},{"hour":139.73,"temp":21.33},{"hour":140.15,"temp":20.81},{"hour":140.97,"temp":20.92},{"hour":141.25,"temp":21.80},{"hour":141.66,"temp":22.38},{"hour":141.94,"temp":22.58},{"hour":142.35,"temp":23.16}
    ],
    "guidance": [
      {"hour":0,"temp":21,"line":"lower"},{"hour":142.35,"temp":21,"line":"lower"},
      {"hour":0,"temp":23,"line":"upper"},{"hour":142.35,"temp":23,"line":"upper"}
    ]
  },
  "encoding": {
    "x": {
      "field": "hour",
      "type": "quantitative",
      "scale": {"domain": [0, 142.35], "nice": false, "zero": false},
      "axis": {
        "values": [1.7, 25.6, 49.5, 73.6, 97.6, 121.7, 140.9],
        "labelExpr": "datum.value < 10 ? 'Wednesday' : datum.value < 35 ? 'Thursday' : datum.value < 60 ? 'Friday' : datum.value < 85 ? 'Saturday' : datum.value < 110 ? 'Sunday' : datum.value < 130 ? 'Monday' : 'Tuesday'",
        "labelAngle": -45,
        "labelAlign": "right",
        "labelBaseline": "top",
        "labelFontSize": 24,
        "labelFont": "Liberation Sans",
        "labelColor": "#000000",
        "labelPadding": 18,
        "labelFlush": false,
        "labelOverlap": false,
        "labelBound": false,
        "ticks": false,
        "domain": false,
        "grid": false,
        "title": null
      }
    },
    "y": {
      "field": "temp",
      "type": "quantitative",
      "scale": {"domain": [17, 29], "nice": false, "zero": false},
      "axis": {
        "values": [17, 19, 21, 23, 25, 27, 29],
        "labelFontSize": 24,
        "labelFont": "Liberation Sans",
        "labelColor": "#000000",
        "labelPadding": 18,
        "ticks": false,
        "domain": false,
        "grid": true,
        "gridColor": "#d9d9d9",
        "gridWidth": 1.5,
        "title": "Temperature (°C)",
        "titleFont": "Liberation Sans",
        "titleFontSize": 24,
        "titleFontWeight": "normal",
        "titleColor": "#000000",
        "titleAngle": -90,
        "titleAlign": "center",
        "titleBaseline": "middle",
        "titleX": -73,
        "titleY": 420
      }
    }
  },
  "layer": [
    {
      "data": {"name": "d649"},
      "mark": {"type": "line", "strokeWidth": 4.2, "strokeJoin": "round", "strokeCap": "round"},
      "encoding": {
        "color": {
          "datum": "Desk 649",
          "type": "nominal",
          "scale": {
            "domain": ["Desk 649", "Desk 622", "Desk 603", "Desk 665", "Winter Guidance Value"],
            "range": ["#5B9BD5", "#ED7D31", "#A5A5A5", "#FFC000", "#FF0000"]
          },
          "legend": {
            "orient": "none",
            "legendX": 274,
            "legendY": 978,
            "direction": "horizontal",
            "title": null,
            "symbolType": "stroke",
            "symbolStrokeWidth": 5,
            "symbolSize": 2500,
            "labelFontSize": 25,
            "labelFont": "Liberation Sans",
            "labelColor": "#000000",
            "labelOffset": 1,
            "labelLimit": 400,
            "columnPadding": 28,
            "padding": 0
          }
        }
      }
    },
    {
      "data": {"name": "d622"},
      "mark": {"type": "line", "strokeWidth": 4.2, "strokeJoin": "round", "strokeCap": "round"},
      "encoding": {"color": {"datum": "Desk 622", "type": "nominal"}}
    },
    {
      "data": {"name": "d603"},
      "mark": {"type": "line", "strokeWidth": 4.2, "strokeJoin": "round", "strokeCap": "round"},
      "encoding": {"color": {"datum": "Desk 603", "type": "nominal"}}
    },
    {
      "data": {"name": "d665"},
      "mark": {"type": "line", "strokeWidth": 4.2, "strokeJoin": "round", "strokeCap": "round"},
      "encoding": {"color": {"datum": "Desk 665", "type": "nominal"}}
    },
    {
      "data": {"name": "guidance"},
      "mark": {"type": "line", "strokeWidth": 5, "strokeCap": "butt"},
      "encoding": {
        "color": {"datum": "Winter Guidance Value", "type": "nominal"},
        "detail": {"field": "line", "type": "nominal"}
      }
    }
  ]
}
